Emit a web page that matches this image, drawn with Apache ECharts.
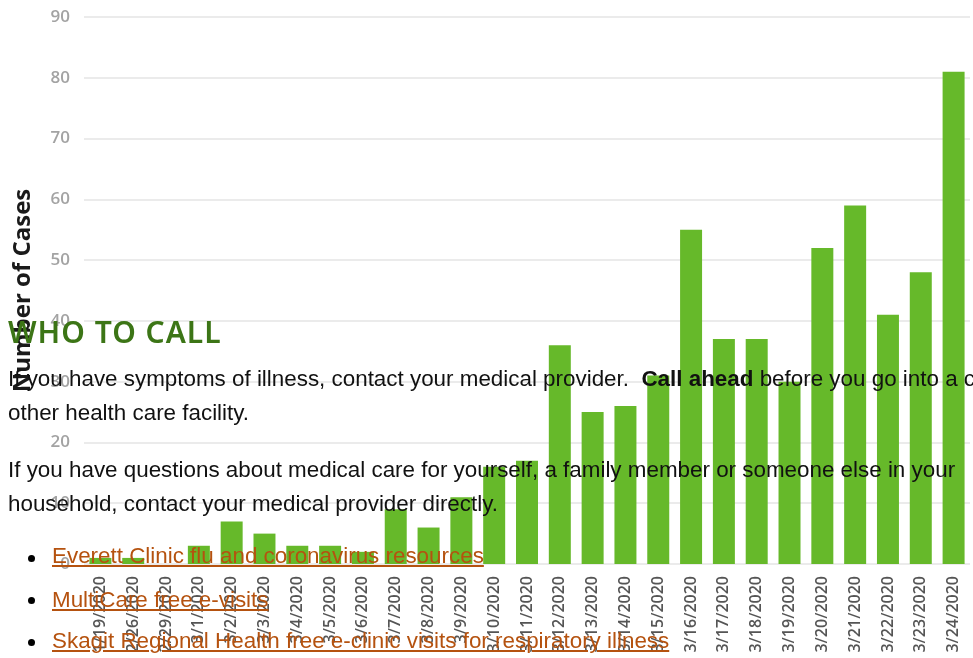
<!DOCTYPE html>
<html>
<head>
<meta charset="utf-8">
<script src="https://cdn.jsdelivr.net/npm/echarts@6/dist/echarts.min.js"></script>
<style>
html,body{margin:0;padding:0;width:973px;height:658px;overflow:hidden;background:#fff;}
#chart{position:absolute;left:0;top:0;width:973px;height:658px;}
#overlay{position:absolute;left:0;top:0;width:1400px;height:658px;pointer-events:none;font-family:"Liberation Sans",Arial,sans-serif;color:#111;font-size:22.4px;}
.h{position:absolute;left:8px;top:312px;font-family:"Noto Sans",sans-serif;font-weight:600;font-size:30px;line-height:40px;color:#3c7516;letter-spacing:1px;white-space:nowrap;}
.p{position:absolute;left:8px;white-space:nowrap;line-height:34px;}
.li{position:absolute;left:52px;white-space:nowrap;color:#b5520f;text-decoration:underline;text-underline-offset:2px;line-height:26px;}
.b{position:absolute;left:28px;width:7px;height:7px;border-radius:50%;background:#000;}
</style>
</head>
<body>
<div id="chart"></div>
<div id="overlay">
  <div class="h">WHO TO CALL</div>
  <div class="p" style="top:362px">If you have symptoms of illness, contact your medical provider.&nbsp; <b>Call ahead</b> before you go into a clinic, hospital or<br>other health care facility.</div>
  <div class="p" style="top:453px">If you have questions about medical care for yourself, a family member or someone else in your<br>household, contact your medical provider directly.</div>
  <div class="b" style="top:555px"></div>
  <div class="li" style="top:543px">Everett Clinic flu and coronavirus resources</div>
  <div class="b" style="top:597px"></div>
  <div class="li" style="top:587px">MultiCare free e-visits</div>
  <div class="b" style="top:639px"></div>
  <div class="li" style="top:628px">Skagit Regional Health free e-clinic visits for respiratory illness</div>
</div>
<script>
var categories = ["1/19/2020","2/26/2020","2/29/2020","3/1/2020","3/2/2020","3/3/2020","3/4/2020","3/5/2020","3/6/2020","3/7/2020","3/8/2020","3/9/2020","3/10/2020","3/11/2020","3/12/2020","3/13/2020","3/14/2020","3/15/2020","3/16/2020","3/17/2020","3/18/2020","3/19/2020","3/20/2020","3/21/2020","3/22/2020","3/23/2020","3/24/2020"];
var cases = [1,1,0,3,7,5,3,3,2,9,6,11,16,17,36,25,26,31,55,37,37,30,52,59,41,48,81];
var yTicks = {min:0, max:90, interval:10};
var yTitle = "Number of Cases";

var chart = echarts.init(document.getElementById('chart'), null, {renderer:'canvas'});
chart.setOption({
  animation:false,
  backgroundColor:'#ffffff',
  grid:{left:84, right:3, top:17, bottom:94, containLabel:false},
  xAxis:{
    type:'category', data:categories,
    axisLine:{show:false}, axisTick:{show:false},
    axisLabel:{rotate:90, interval:0, margin:12, fontFamily:'Open Sans', fontSize:16, fontWeight:600, color:'#555'}
  },
  yAxis:{
    type:'value', min:yTicks.min, max:yTicks.max, interval:yTicks.interval,
    name:yTitle, nameLocation:'middle', nameRotate:90, nameGap:49,
    nameTextStyle:{fontFamily:'Open Sans', fontSize:24, fontWeight:'bold', color:'#1a1a1a'},
    axisLine:{show:false}, axisTick:{show:false},
    axisLabel:{margin:14, fontFamily:'Open Sans', fontSize:17, fontWeight:600, color:'#a3a3a3'},
    splitLine:{lineStyle:{color:'#ebebeb', width:2}}
  },
  series:[{
    type:'bar', data:cases, barWidth:'67%',
    itemStyle:{color:'#66b92a'}
  }]
});
</script>
</body>
</html>
